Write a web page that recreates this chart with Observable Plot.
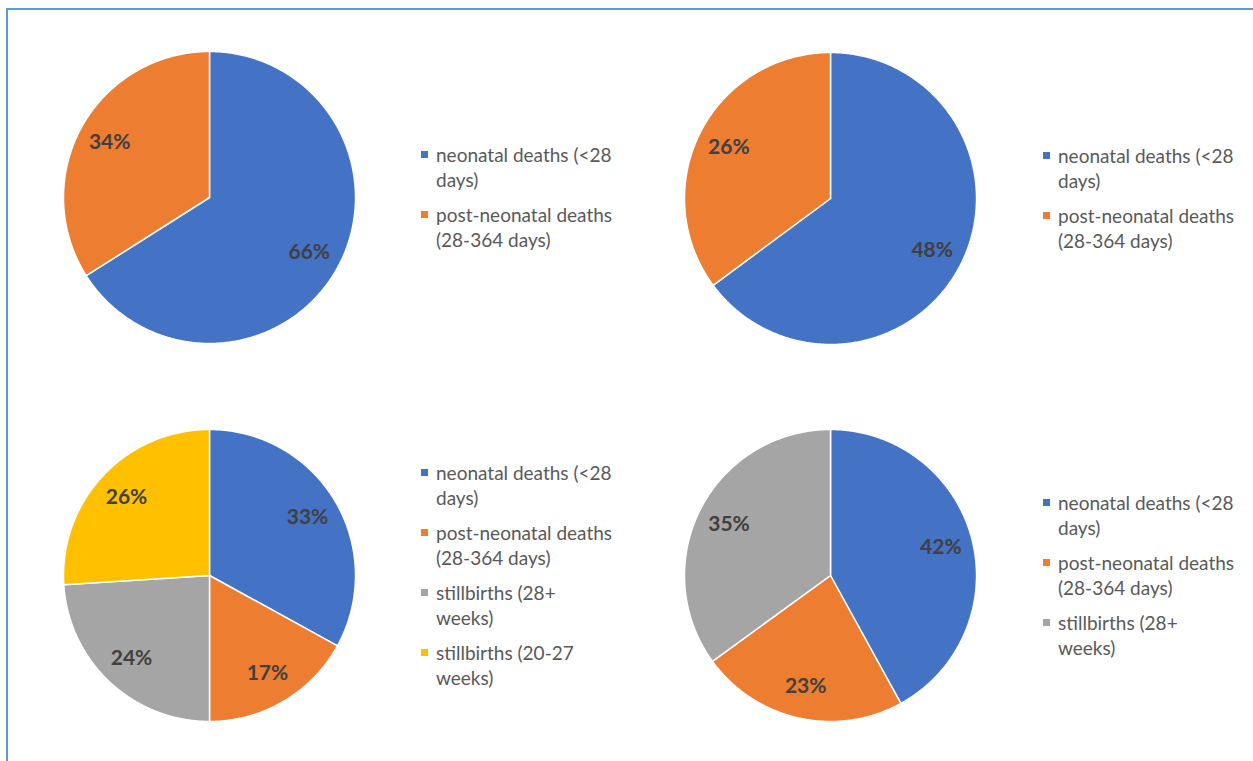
<!DOCTYPE html>
<html>
<head>
<meta charset="utf-8">
<script src="https://cdn.jsdelivr.net/npm/d3@7"></script>
<script src="https://cdn.jsdelivr.net/npm/@observablehq/plot@0.6"></script>
<style>
  body { margin: 0; background: #fff; }
  #frame {
    position: relative; width: 1253px; height: 761px; overflow: hidden;
    font-family: Lato, "Open Sans", sans-serif;
  }
  #frame .edge {
    position: absolute; left: 6px; top: 8px; right: -10px; bottom: -10px;
    border-left: 2px solid #5B9BD5; border-top: 2px solid #5B9BD5;
  }
  .pie { position: absolute; }
  .legend {
    position: absolute; transform: translateY(-50%);
    display: flex; flex-direction: column; gap: 10px;
    color: #595959; font-size: 19px; line-height: 25px;
  }
  .legend .item { display: flex; align-items: flex-start; }
  .legend .sw { width: 7px; height: 7px; margin-top: 9px; margin-right: 8px; flex-shrink: 0; }
</style>
</head>
<body>
<div id="frame"><div class="edge"></div></div>
<script>
// Causes of infant and perinatal death, shares per panel
const categories = [
  "neonatal deaths (<28 days)",
  "post-neonatal deaths (28-364 days)",
  "stillbirths (28+ weeks)",
  "stillbirths (20-27 weeks)"
];
const colors = ["#4472C4", "#ED7D31", "#A5A5A5", "#FFC000"];

const panelTopLeft = [66, 34];
const panelTopRight = [48, 26];
const panelBottomLeft = [33, 17, 24, 26];
const panelBottomRight = [42, 23, 35];

// pie centre, pie radius and legend placement for each panel
const R = 146;
const layout = [
  {values: panelTopLeft, cx: 209, cy: 197, legendX: 421},
  {values: panelTopRight, cx: 830, cy: 198, legendX: 1043},
  {values: panelBottomLeft, cx: 209, cy: 575, legendX: 421},
  {values: panelBottomRight, cx: 830, cy: 575, legendX: 1043}
];

// break a legend label into lines of at most `max` characters
function wrap(text, max = 20) {
  const lines = [];
  let cur = "";
  for (const w of text.split(" ")) {
    const next = cur ? cur + " " + w : w;
    if (next.length > max && cur) { lines.push(cur); cur = w; }
    else cur = next;
  }
  if (cur) lines.push(cur);
  return lines;
}

function pieChart(values) {
  const rows = values.map((v, i) => ({cat: categories[i], value: v}));
  const arcs = d3.pie().sort(null).value(d => d.value)(rows);
  // each slice as a closed outline: centre -> arc -> centre (unit circle, y up)
  const outline = arcs.flatMap(a => {
    const cat = a.data.cat;
    const n = Math.max(2, Math.ceil((a.endAngle - a.startAngle) / (Math.PI / 360)));
    const pts = [{cat, x: 0, y: 0}];
    for (let k = 0; k <= n; k++) {
      const t = a.startAngle + (a.endAngle - a.startAngle) * k / n;
      pts.push({cat, x: Math.sin(t), y: Math.cos(t)});
    }
    pts.push({cat, x: 0, y: 0});
    return pts;
  });
  const labels = arcs.map(a => {
    const m = (a.startAngle + a.endAngle) / 2;
    return {x: 0.78 * Math.sin(m), y: 0.78 * Math.cos(m), text: `${a.data.value}%`};
  });
  const size = 2 * R + 20;
  return Plot.plot({
    width: size, height: size, margin: 10,
    x: {domain: [-1, 1], axis: null},
    y: {domain: [-1, 1], axis: null},
    color: {domain: categories, range: colors},
    style: {fontFamily: "Lato, 'Open Sans', sans-serif", background: "transparent", overflow: "visible"},
    marks: [
      Plot.line(outline, {x: "x", y: "y", z: "cat", fill: "cat", stroke: "white", strokeWidth: 1.5, strokeLinejoin: "round"}),
      Plot.text(labels, {x: "x", y: "y", text: "text", fontSize: 21, fontWeight: "bold", fill: "#404040"})
    ]
  });
}

const frame = document.getElementById("frame");
for (const p of layout) {
  const svg = pieChart(p.values);
  svg.classList.add("pie");
  svg.style.left = `${p.cx - R - 10}px`;
  svg.style.top = `${p.cy - R - 10}px`;
  frame.appendChild(svg);

  const color = Plot.scale({color: {domain: categories, range: colors}});
  const legend = document.createElement("div");
  legend.className = "legend";
  legend.style.left = `${p.legendX}px`;
  legend.style.top = `${p.cy}px`;
  p.values.forEach((v, i) => {
    const item = document.createElement("div");
    item.className = "item";
    const sw = document.createElement("div");
    sw.className = "sw";
    sw.style.background = color.apply(categories[i]);
    const label = document.createElement("div");
    label.innerHTML = wrap(categories[i]).map(s => s.replace(/</g, "&lt;")).join("<br>");
    item.append(sw, label);
    legend.appendChild(item);
  });
  frame.appendChild(legend);
}
</script>
</body>
</html>
